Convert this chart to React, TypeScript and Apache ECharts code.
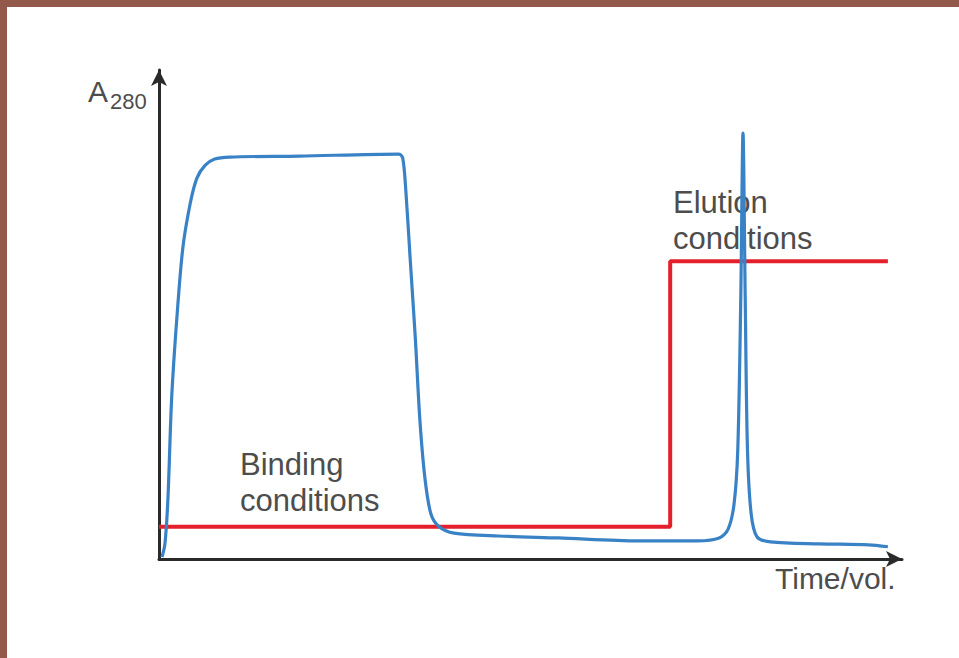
import React, { useEffect, useRef } from "react";
import * as echarts from "echarts";

// A280 trace (blue): [time/vol, absorbance] in arbitrary units 0..100
const absorbanceTrace: [number, number][] = [
  [0.4, 0.4], [0.8, 3.1], [1.2, 12.3], [1.7, 32.8], [2.4, 49.2], [3.2, 63.5],
  [4.2, 72.7], [5.1, 77.9], [6.2, 80.5], [7.5, 81.8], [9.5, 82.2], [18.9, 82.4],
  [32.3, 82.8], [32.8, 82.0], [33.2, 75.8], [33.8, 61.5], [34.5, 45.1],
  [35.1, 28.7], [35.8, 16.4], [36.6, 9.2], [37.7, 6.6], [39.7, 5.3],
  [45.7, 4.7], [53.8, 4.3], [64.5, 3.7], [72.5, 3.7], [75.4, 4.3], [76.6, 6.1],
  [77.4, 11.3], [77.9, 22.5], [78.3, 53.3], [78.6, 87.1], [78.9, 53.3],
  [79.2, 22.5], [79.7, 9.2], [80.5, 4.5], [82.3, 3.5], [88.9, 3.1],
  [95.5, 2.9], [98.1, 2.5],
];

// Buffer conditions (red step line)
const conditionLine: [number, number][] = [
  [0, 6.6], [68.8, 6.6], [68.8, 60.9], [98.1, 60.9],
];

const xAxisName = "Time/vol.";
const yAxisName = "A";
const yAxisSub = "280";
const bindingLabel = ["Binding", "conditions"];
const elutionLabel = ["Elution", "conditions"];

export default function App() {
  const ref = useRef<HTMLDivElement>(null);
  useEffect(() => {
    if (!ref.current) return;
    const chart = echarts.init(ref.current, undefined, { renderer: "svg" });
    const font = "'Liberation Sans', Arial, sans-serif";
    const textColor = "#4d4d4d";
    const brown = "#93594a";
    chart.setOption({
      animation: false,
      backgroundColor: "#ffffff",
      grid: { left: 159, right: 57, top: 70, bottom: 99 },
      xAxis: {
        type: "value",
        min: 0,
        max: 100,
        axisLine: {
          show: true,
          lineStyle: { color: "#2a2a2a", width: 3 },
          symbol: ["none", "arrow"],
          symbolSize: [12, 16],
        },
        axisTick: { show: false },
        axisLabel: { show: false },
        splitLine: { show: false },
      },
      yAxis: {
        type: "value",
        min: 0,
        max: 100,
        axisLine: {
          show: true,
          lineStyle: { color: "#2a2a2a", width: 3 },
          symbol: ["none", "arrow"],
          symbolSize: [12, 16],
        },
        axisTick: { show: false },
        axisLabel: { show: false },
        splitLine: { show: false },
      },
      series: [
        {
          type: "line",
          data: conditionLine,
          showSymbol: false,
          lineStyle: { color: "#e3202b", width: 4 },
          z: 2,
        },
        {
          type: "line",
          data: absorbanceTrace,
          showSymbol: false,
          smooth: 0.3,
          lineStyle: { color: "#3a82c6", width: 3.2 },
          z: 3,
        },
      ],
      graphic: [
        { type: "rect", shape: { x: 0, y: 0, width: 959, height: 7 }, style: { fill: brown }, silent: true },
        { type: "rect", shape: { x: 0, y: 0, width: 7, height: 658 }, style: { fill: brown }, silent: true },
        {
          type: "text", left: 88, top: 76,
          style: { text: yAxisName, font: `30px ${font}`, fill: textColor },
        },
        {
          type: "text", left: 110, top: 90,
          style: { text: yAxisSub, font: `22px ${font}`, fill: textColor },
        },
        {
          type: "text", left: 240, top: 446,
          style: { text: bindingLabel.join("\n"), font: `31px ${font}`, lineHeight: 36, fill: textColor },
          z: 10,
        },
        {
          type: "text", left: 673, top: 184,
          style: { text: elutionLabel.join("\n"), font: `31px ${font}`, lineHeight: 36, fill: textColor },
          z: 1,
        },
        {
          type: "text", left: 775, top: 563,
          style: { text: xAxisName, font: `30px ${font}`, fill: textColor },
        },
      ],
    });
    return () => chart.dispose();
  }, []);
  return (
    <div
      ref={ref}
      style={{ position: "fixed", left: 0, top: 0, width: 959, height: 658 }}
    />
  );
}
